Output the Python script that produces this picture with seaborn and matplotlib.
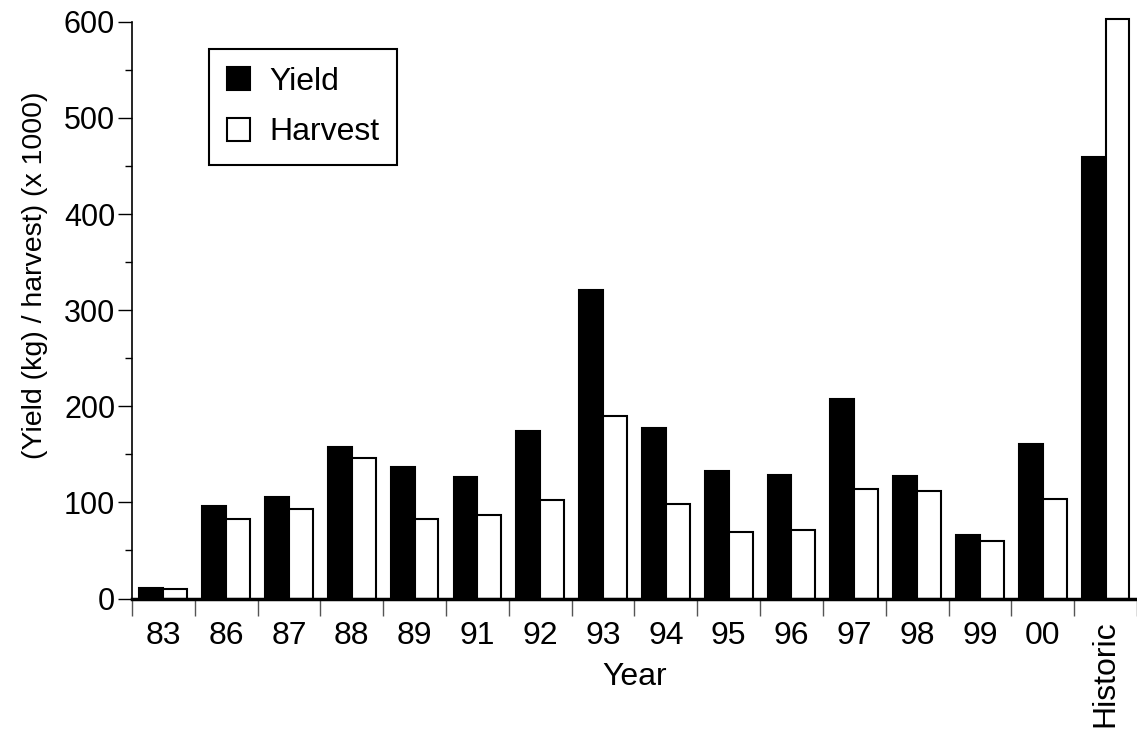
import matplotlib
matplotlib.use("Agg")
import matplotlib.pyplot as plt
import numpy as np
import pandas as pd
import seaborn as sns

years = ["83", "86", "87", "88", "89", "91", "92", "93", "94", "95",
         "96", "97", "98", "99", "00", "Historic"]
yield_vals = [11, 96, 106, 158, 137, 126, 174, 321, 177, 133,
              129, 208, 127, 66, 161, 459]
harvest_vals = [10, 83, 93, 146, 83, 87, 103, 190, 98, 69,
                71, 114, 112, 60, 104, 603]
series = ["Yield", "Harvest"]

df = pd.DataFrame({
    "year": years * 2,
    "series": ["Yield"] * len(years) + ["Harvest"] * len(years),
    "value": yield_vals + harvest_vals,
})

sns.set_style("ticks")
plt.rcParams["font.family"] = ["Liberation Sans", "DejaVu Sans"]
plt.rcParams["text.color"] = "black"
plt.rcParams["axes.labelcolor"] = "black"
plt.rcParams["xtick.color"] = "black"
plt.rcParams["ytick.color"] = "black"
plt.rcParams["axes.edgecolor"] = "black"

fig = plt.figure(figsize=(11.37, 7.29), dpi=100)
ax = fig.add_axes([0.116, 0.179, 0.884, 0.791])

sns.barplot(data=df, x="year", y="value", hue="series", order=years,
            hue_order=series, palette=["black", "white"], width=0.76,
            edgecolor="black", linewidth=1.5, saturation=1, ax=ax)
for p in ax.patches:
    p.set_clip_on(False)

ax.set_ylim(0, 600)
ax.set_xlim(-0.5, len(years) - 0.5)
ax.set_yticks(np.arange(0, 601, 100))
ax.set_yticks(np.arange(50, 600, 100), minor=True)
ax.set_xticks(np.arange(-0.5, len(years), 1.0), minor=True)

ax.tick_params(axis="y", which="major", length=10, width=1, labelsize=22, pad=2)
ax.tick_params(axis="y", which="minor", length=5, width=1)
ax.tick_params(axis="x", which="major", length=0, labelsize=23, pad=16)
ax.tick_params(axis="x", which="minor", length=12, width=1, color="#555555")
ax.set_xticks(range(len(years)))
ax.set_xticklabels(years)
ax.get_xticklabels()[-1].set_rotation(90)
ax.get_xticklabels()[-1].set_va("top")

sns.despine(ax=ax)
ax.spines["bottom"].set_linewidth(2.5)
ax.spines["left"].set_linewidth(1.2)

ax.set_xlabel("Year", fontsize=23)
ax.xaxis.set_label_coords(0.5, -0.11)
ax.set_ylabel("(Yield (kg) / harvest) (x 1000)", fontsize=20.5)
ax.yaxis.set_label_coords(-0.083, 0.56)

handles, labels = ax.get_legend_handles_labels()
leg = ax.legend(handles, labels, loc="upper left", bbox_to_anchor=(0.077, 0.953),
                fontsize=23, frameon=True, fancybox=False, handlelength=0.74,
                handleheight=0.74, handletextpad=0.6, labelspacing=0.65,
                borderpad=0.55, borderaxespad=0)
leg.get_frame().set_edgecolor("black")
leg.get_frame().set_linewidth(1.5)
leg.get_frame().set_alpha(1)

fig.savefig("out.png", dpi=100)
